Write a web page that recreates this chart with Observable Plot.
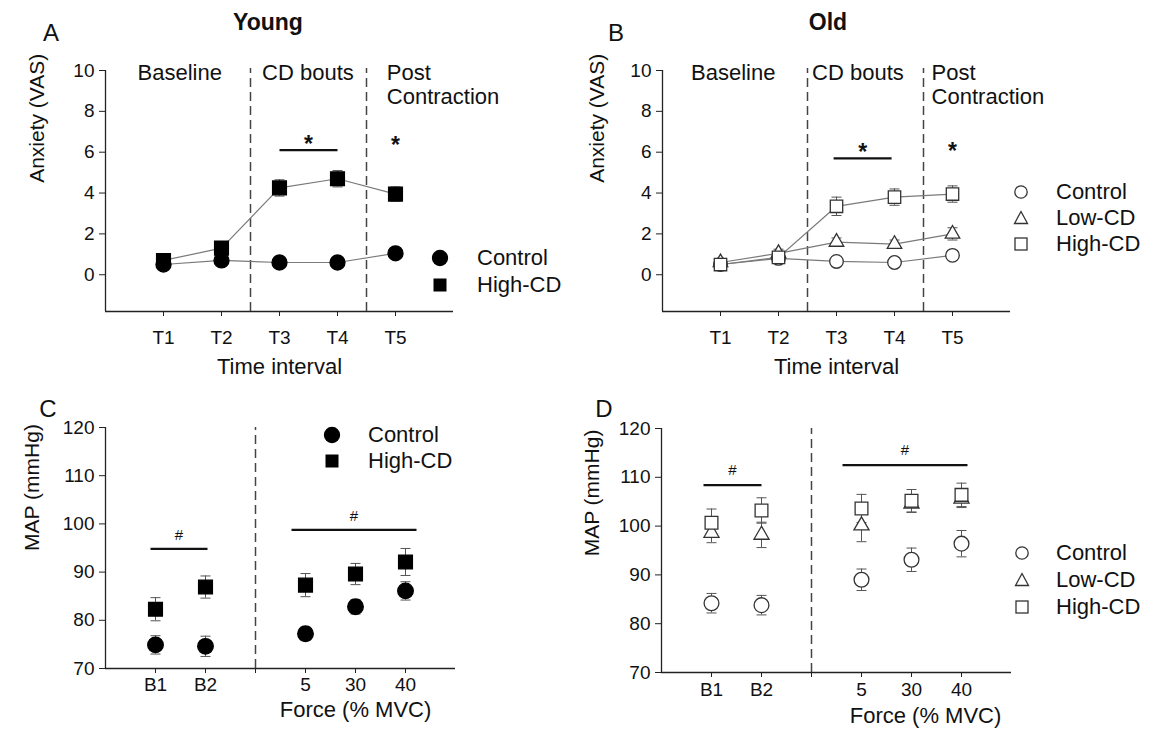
<!DOCTYPE html>
<html>
<head>
<meta charset="utf-8">
<script src="https://cdn.jsdelivr.net/npm/d3@7"></script>
<script src="https://cdn.jsdelivr.net/npm/@observablehq/plot@0.6"></script>
<style>
  html, body { margin: 0; padding: 0; background: #fff; }
  #page { position: relative; width: 1154px; height: 732px; overflow: hidden; font-family: Arial, "Liberation Sans", sans-serif; color: #111; }
  .lbl { position: absolute; transform: translate(-50%, -50%); white-space: nowrap; line-height: 1; }
</style>
</head>
<body>
<div id="page"></div>
<script>
// ---------- data ----------
const timeX = [1, 2, 3, 4, 5];
const timeLabels = ["T1", "T2", "T3", "T4", "T5"];

const youngControl = [0.5, 0.7, 0.6, 0.6, 1.05];
const youngControlErr = [0.1, 0.1, 0.1, 0.1, 0.15];
const youngHigh = [0.7, 1.3, 4.25, 4.7, 3.95];
const youngHighErr = [0.15, 0.2, 0.4, 0.4, 0.35];

const oldControl = [0.5, 0.8, 0.65, 0.6, 0.95];
const oldControlErr = [0.1, 0.1, 0.1, 0.1, 0.15];
const oldLow = [0.6, 1.05, 1.6, 1.5, 2.0];
const oldLowErr = [0.15, 0.2, 0.2, 0.2, 0.3];
const oldHigh = [0.5, 0.85, 3.35, 3.8, 3.95];
const oldHighErr = [0.15, 0.2, 0.45, 0.4, 0.4];

const forceX = [1, 2, 4, 5, 6];
const forceTicks = [1, 2, 3, 4, 5, 6];
const forceLabels = {1: "B1", 2: "B2", 3: "", 4: "5", 5: "30", 6: "40"};

const youngMapControl = [74.9, 74.6, 77.2, 82.8, 86.1];
const youngMapControlErr = [1.9, 2.1, 1.4, 1.5, 1.9];
const youngMapHigh = [82.3, 86.9, 87.3, 89.6, 92.1];
const youngMapHighErr = [2.4, 2.3, 2.4, 2.2, 2.8];

const oldMapControl = [84.2, 83.8, 89.0, 93.1, 96.4];
const oldMapControlErr = [2.0, 2.0, 2.2, 2.4, 2.7];
const oldMapLow = [98.6, 98.2, 100.1, 104.6, 105.6];
const oldMapLowErr = [2.0, 2.6, 3.3, 1.8, 1.8];
const oldMapHigh = [100.7, 103.2, 103.6, 105.2, 106.4];
const oldMapHighErr = [2.8, 2.6, 2.9, 2.3, 2.4];

// annotations (data units)
const phaseDividers = [2.5, 4.5];
const forceDivider = [3];
const youngPhaseText = [
  {x: 1.28, y: 9.9, t: "Baseline", a: "middle"},
  {x: 3.49, y: 9.9, t: "CD bouts", a: "middle"},
  {x: 4.85, y: 9.9, t: "Post", a: "start"},
  {x: 4.85, y: 8.72, t: "Contraction", a: "start"}
];
const oldPhaseText = [
  {x: 1.22, y: 9.9, t: "Baseline", a: "middle"},
  {x: 3.37, y: 9.9, t: "CD bouts", a: "middle"},
  {x: 4.64, y: 9.9, t: "Post", a: "start"},
  {x: 4.64, y: 8.72, t: "Contraction", a: "start"}
];
const youngSigBars = [{x1: 3, x2: 4, y: 6.1}];
const youngStars = [{x: 3.5, y: 6.35}, {x: 5, y: 6.3}];
const oldSigBars = [{x1: 2.95, x2: 3.95, y: 5.7}];
const oldStars = [{x: 3.45, y: 6.0}, {x: 5, y: 6.05}];
const youngMapBars = [{x1: 0.9, x2: 2.04, y: 94.8}, {x1: 3.72, x2: 6.22, y: 98.75}];
const youngMapHash = [{x: 1.47, y: 97.6}, {x: 4.97, y: 101.6}];
const oldMapBars = [{x1: 0.84, x2: 2.0, y: 108.4}, {x1: 3.62, x2: 6.12, y: 112.5}];
const oldMapHash = [{x: 1.42, y: 111.4}, {x: 4.87, y: 115.5}];

// ---------- helpers ----------
const FONT = "Arial, 'Liberation Sans', sans-serif";
const rows = (xs, ys, es) => xs.map((x, i) => ({x, y: ys[i], e: es[i]}));
const capSymbol = {
  draw(ctx, size) {
    const w = Math.sqrt(size / Math.PI);
    ctx.moveTo(-w, 0); ctx.lineTo(w, 0);
  }
};
function errMarks(data, color = "#555") {
  return [
    Plot.ruleX(data, {x: "x", y1: d => d.y - d.e, y2: d => d.y + d.e, stroke: color, strokeWidth: 1}),
    Plot.dot(data, {x: "x", y: d => d.y + d.e, symbol: capSymbol, r: 5, stroke: color, fill: "none", strokeWidth: 1}),
    Plot.dot(data, {x: "x", y: d => d.y - d.e, symbol: capSymbol, r: 5, stroke: color, fill: "none", strokeWidth: 1})
  ];
}
function baseStyle() {
  return {fontFamily: FONT, fontSize: "19px", color: "#111", background: "white", overflow: "visible"};
}
function phaseMarks(phaseText) {
  return ["middle", "start"].map(a =>
    Plot.text(phaseText.filter(d => d.a === a), {x: "x", y: "y", text: "t", textAnchor: a, fontSize: 22, fill: "#111"})
  );
}

const page = document.getElementById("page");
function place(el, left, top) {
  el.style.position = "absolute";
  el.style.left = left + "px";
  el.style.top = top + "px";
  page.appendChild(el);
}

function anxietyPanel(series, phaseText, sigBars, stars, ml, mr, ylabelDx) {
  const lineMarks = [];
  const errs = [];
  const dots = [];
  for (const s of series) {
    lineMarks.push(Plot.line(s.data, {x: "x", y: "y", stroke: "#7a7a7a", strokeWidth: 1.2}));
    errs.push(...errMarks(s.data));
    dots.push(Plot.dot(s.data, {x: "x", y: "y", symbol: s.symbol, r: s.r, fill: s.fill, stroke: s.stroke, strokeWidth: 1.3}));
  }
  return Plot.plot({
    width: 577, height: 390,
    marginLeft: ml, marginRight: mr, marginTop: 70, marginBottom: 79,
    x: {domain: [0, 6]},
    y: {domain: [-1.8, 10]},
    style: baseStyle(),
    marks: [
      Plot.axisX({ticks: timeX, tickFormat: i => timeLabels[i - 1], tickSize: 5, tickPadding: 14, label: null, fontSize: 19, stroke: "#222"}),
      Plot.axisY({ticks: [0, 2, 4, 6, 8, 10], tickSize: 6, tickPadding: 5, label: null, fontSize: 19, stroke: "#222"}),
      Plot.ruleX([0], {y1: -1.8, y2: 10, stroke: "#222", strokeWidth: 1.3}),
      Plot.ruleY([-1.8], {x1: 0, x2: 6, stroke: "#222", strokeWidth: 1.3}),
      Plot.ruleX(phaseDividers, {y1: -1.8, y2: 10.1, stroke: "#444", strokeWidth: 1.5, strokeDasharray: "9,5"}),
      ...phaseMarks(phaseText),
      Plot.link(sigBars, {x1: "x1", x2: "x2", y1: "y", y2: "y", stroke: "#111", strokeWidth: 2.2}),
      Plot.text(stars, {x: "x", y: "y", text: () => "*", fontSize: 23, fontWeight: "bold", fill: "#111"}),
      ...lineMarks, ...errs, ...dots,
      Plot.text(["Anxiety (VAS)"], {frameAnchor: "left", y: () => 4.5, dx: -ylabelDx, rotate: -90, fontSize: 21, fill: "#111"}),
      Plot.text(["Time interval"], {frameAnchor: "bottom", x: () => 3, dy: 62, fontSize: 22, fill: "#111"})
    ]
  });
}

function mapPanel(series, bars, hashes, ml, mr, mt, mb, tickPad, ylabelDx, ylabelY, xlabelX, xlabelDy) {
  const errs = [];
  const dots = [];
  for (const s of series) {
    errs.push(...errMarks(s.data));
    dots.push(Plot.dot(s.data, {x: "x", y: "y", symbol: s.symbol, r: s.r, fill: s.fill, stroke: s.stroke, strokeWidth: 1.3}));
  }
  return Plot.plot({
    width: 577, height: 342,
    marginLeft: ml, marginRight: mr, marginTop: mt, marginBottom: mb,
    x: {domain: [0, 7]},
    y: {domain: [70, 120]},
    style: baseStyle(),
    marks: [
      Plot.axisX({ticks: forceTicks, tickFormat: i => forceLabels[i], tickSize: 5, tickPadding: tickPad, label: null, fontSize: 19, stroke: "#222"}),
      Plot.axisY({ticks: [70, 80, 90, 100, 110, 120], tickSize: 6, tickPadding: 5, label: null, fontSize: 19, stroke: "#222"}),
      Plot.ruleX([0], {y1: 70, y2: 120, stroke: "#222", strokeWidth: 1.3}),
      Plot.ruleY([70], {x1: 0, x2: 7, stroke: "#222", strokeWidth: 1.3}),
      Plot.ruleX(forceDivider, {y1: 70, y2: 120, stroke: "#444", strokeWidth: 1.5, strokeDasharray: "9,5"}),
      Plot.link(bars, {x1: "x1", x2: "x2", y1: "y", y2: "y", stroke: "#111", strokeWidth: 2.2}),
      Plot.text(hashes, {x: "x", y: "y", text: () => "#", fontSize: 15, fill: "#111"}),
      ...errs, ...dots,
      Plot.text(["MAP (mmHg)"], {frameAnchor: "left", y: () => ylabelY, dx: -ylabelDx, rotate: -90, fontSize: 21, fill: "#111"}),
      Plot.text(["Force (% MVC)"], {frameAnchor: "bottom", x: () => xlabelX, dy: xlabelDy, fontSize: 22, fill: "#111"})
    ]
  });
}

const chartA = anxietyPanel([
  {data: rows(timeX, youngControl, youngControlErr), symbol: "circle", r: 7.5, fill: "#000", stroke: "#000"},
  {data: rows(timeX, youngHigh, youngHighErr), symbol: "square", r: 7.8, fill: "#000", stroke: "#000"}
], youngPhaseText, youngSigBars, youngStars, 105, 124, 68);
place(chartA, 0, 0);

const chartB = anxietyPanel([
  {data: rows(timeX, oldControl, oldControlErr), symbol: "circle", r: 6.8, fill: "#fff", stroke: "#333"},
  {data: rows(timeX, oldLow, oldLowErr), symbol: "triangle", r: 5.4, fill: "#fff", stroke: "#333"},
  {data: rows(timeX, oldHigh, oldHighErr), symbol: "square", r: 7.0, fill: "#fff", stroke: "#333"}
], oldPhaseText, oldSigBars, oldStars, 85, 144, 65);
place(chartB, 577, 0);

const chartC = mapPanel([
  {data: rows(forceX, youngMapControl, youngMapControlErr), symbol: "circle", r: 7.8, fill: "#000", stroke: "#000"},
  {data: rows(forceX, youngMapHigh, youngMapHighErr), symbol: "square", r: 7.8, fill: "#000", stroke: "#000"}
], youngMapBars, youngMapHash, 105, 122, 37, 64, 4, 73, 94.4, 5, 48);
place(chartC, 0, 390);

const chartD = mapPanel([
  {data: rows(forceX, oldMapControl, oldMapControlErr), symbol: "circle", r: 7.4, fill: "#fff", stroke: "#333"},
  {data: rows(forceX, oldMapLow, oldMapLowErr), symbol: "triangle", r: 5.6, fill: "#fff", stroke: "#333"},
  {data: rows(forceX, oldMapHigh, oldMapHighErr), symbol: "square", r: 7.2, fill: "#fff", stroke: "#333"}
], oldMapBars, oldMapHash, 84, 143, 38, 60, 5, 69, 93.8, 5.28, 50);
place(chartD, 577, 390);

// ---------- titles & panel letters ----------
const titles = [
  {t: "Young", x: 268, y: 22, size: 23, bold: true},
  {t: "Old", x: 828, y: 22, size: 23, bold: true},
  {t: "A", x: 51, y: 33, size: 24},
  {t: "B", x: 616, y: 33, size: 24},
  {t: "C", x: 48, y: 409, size: 24},
  {t: "D", x: 604, y: 409, size: 24}
];
for (const d of titles) {
  const el = document.createElement("div");
  el.className = "lbl";
  el.textContent = d.t;
  el.style.left = d.x + "px";
  el.style.top = d.y + "px";
  el.style.fontSize = d.size + "px";
  el.style.fontWeight = d.bold ? "bold" : "normal";
  page.appendChild(el);
}

// ---------- legends ----------
function symbolSvg(kind, filled) {
  const fill = filled ? "#000" : "#fff";
  const stroke = filled ? "#000" : "#333";
  let shape;
  if (kind === "circle") shape = `<circle cx="10" cy="10" r="${filled ? 7.5 : 6.2}" fill="${fill}" stroke="${stroke}" stroke-width="1.3"/>`;
  else if (kind === "square") shape = filled ? `<rect x="3.5" y="3.5" width="13" height="13" fill="${fill}"/>` : `<rect x="4" y="4" width="12" height="12" fill="${fill}" stroke="${stroke}" stroke-width="1.3"/>`;
  else shape = `<path d="M10,3.5 L16.5,15.5 L3.5,15.5 Z" fill="${fill}" stroke="${stroke}" stroke-width="1.3"/>`;
  return `<svg width="20" height="20" style="display:block">${shape}</svg>`;
}
function legend(items, symX, textX, ys, filled) {
  items.forEach((it, i) => {
    const s = document.createElement("div");
    s.innerHTML = symbolSvg(it.kind, filled);
    s.style.position = "absolute";
    s.style.left = (symX - 10) + "px";
    s.style.top = (ys[i] - 10) + "px";
    page.appendChild(s);
    const t = document.createElement("div");
    t.className = "lbl";
    t.textContent = it.label;
    t.style.fontSize = "22px";
    t.style.transform = "translate(0,-50%)";
    t.style.left = textX + "px";
    t.style.top = ys[i] + "px";
    page.appendChild(t);
  });
}
const twoGroups = [{kind: "circle", label: "Control"}, {kind: "square", label: "High-CD"}];
const threeGroups = [{kind: "circle", label: "Control"}, {kind: "triangle", label: "Low-CD"}, {kind: "square", label: "High-CD"}];
legend(twoGroups, 440, 477, [258, 285], true);
legend(threeGroups, 1021, 1056, [192, 218, 244], false);
legend(twoGroups, 332, 368, [435, 461], true);
legend(threeGroups, 1022, 1056, [553, 580, 607], false);
</script>
</body>
</html>
